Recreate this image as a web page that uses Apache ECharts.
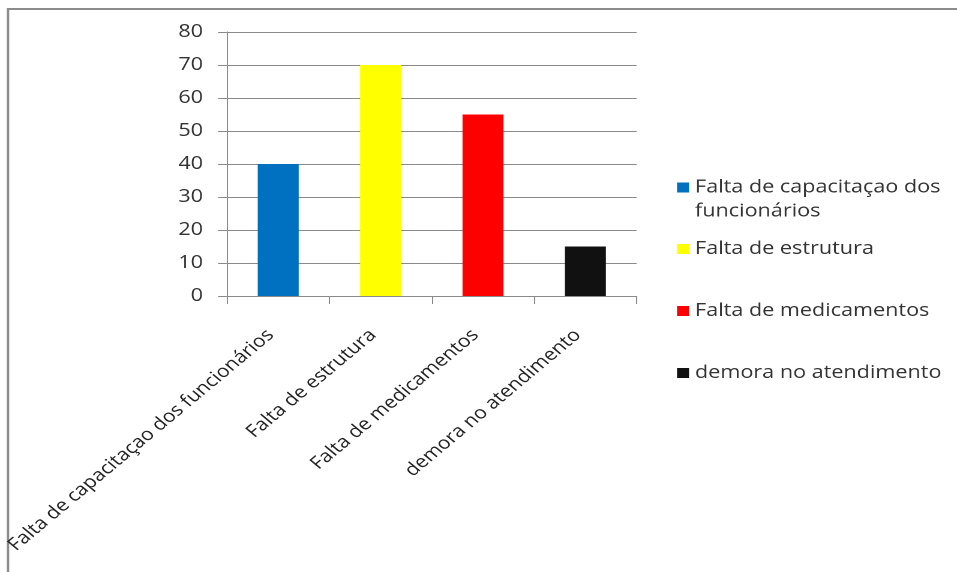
<!DOCTYPE html>
<html>
<head>
<meta charset="utf-8">
<script src="https://cdn.jsdelivr.net/npm/echarts@6/dist/echarts.min.js"></script>
<style>
  html, body { margin: 0; padding: 0; background: #fff; overflow: hidden; }
  /* the chart is drawn narrower and widened 1.2x, giving the broad lettering */
  #chart {
    width: 797.5px;
    height: 572px;
    transform: scaleX(1.2);
    transform-origin: 0 0;
  }
</style>
</head>
<body>
<div id="chart"></div>
<script>
// Problems reported by users of the health service
const categories = [
  'Falta de capacitaçao dos funcionários',
  'Falta de estrutura',
  'Falta de medicamentos',
  'demora no atendimento'
];
const values = [40, 70, 55, 15];
const barColors = ['#0070c0', '#ffff00', '#ff0000', '#111111'];
const yTicks = { min: 0, max: 80, interval: 10 };
// legend text; the first entry wraps onto a second line
const legendLines = [
  ['Falta de capacitaçao dos', 'funcionários'],
  ['Falta de estrutura'],
  ['Falta de medicamentos'],
  ['demora no atendimento']
];
const legendCenters = [187.5, 249, 311, 373];

const SX = 1.2;                // horizontal stretch applied by CSS
const px = (x) => x / SX;      // page x -> chart x
const FONT = '"Open Sans", sans-serif';
const GRAY = '#8a8a8a';
const LINE_H = 24;
const CHART_W = 957 / SX;

// one stacked series per category so each bar gets its own legend entry
const series = categories.map((name, i) => ({
  name: name,
  type: 'bar',
  stack: 'all',
  barWidth: '40%',
  itemStyle: { color: barColors[i] },
  data: categories.map((_, j) => (j === i ? values[i] : '-'))
}));

// Legend text is vertically centred on its icon, so a wrapped entry gets a
// blank line on top to keep its first line level with the icon.
const legends = categories.map((name, i) => {
  const lines = legendLines[i];
  const padded = lines.length > 1 ? [' '].concat(lines) : lines;
  return {
    data: [name],
    orient: 'vertical',
    left: px(677),
    top: legendCenters[i] - (padded.length * LINE_H) / 2,
    padding: 0,
    icon: 'rect',
    itemWidth: 10,
    itemHeight: 10,
    selectedMode: false,
    formatter: () => padded.join('\n'),
    textStyle: {
      fontFamily: FONT,
      fontSize: 18,
      color: '#333',
      lineHeight: LINE_H
    }
  };
});

const chart = echarts.init(document.getElementById('chart'), null, {
  renderer: 'canvas',
  devicePixelRatio: 2
});
chart.setOption({
  animation: false,
  backgroundColor: '#fff',
  graphic: [{
    type: 'rect',
    shape: { x: px(8), y: 9, width: 900, height: 600 },
    style: { fill: 'none', stroke: '#8c8c8c', lineWidth: 2 },
    silent: true,
    z: -1
  }],
  grid: { left: px(227), right: CHART_W - px(636), top: 32, bottom: 276 },
  legend: legends,
  xAxis: {
    type: 'category',
    data: categories,
    axisLine: { lineStyle: { color: GRAY, width: 1 } },
    axisTick: { show: true, length: 8, lineStyle: { color: GRAY } },
    axisLabel: {
      rotate: 45,
      margin: 30,
      padding: [0, 9, 0, 0],
      interval: 0,
      fontFamily: FONT,
      fontSize: 17.5,
      color: '#222'
    }
  },
  yAxis: {
    type: 'value',
    min: yTicks.min,
    max: yTicks.max,
    interval: yTicks.interval,
    axisLine: { show: true, lineStyle: { color: GRAY, width: 1 } },
    axisTick: { show: true, length: px(9), lineStyle: { color: GRAY } },
    splitLine: { show: true, lineStyle: { color: GRAY, width: 1 } },
    axisLabel: {
      margin: px(24),
      fontFamily: FONT,
      fontSize: 18,
      color: '#333'
    }
  },
  series: series
});
</script>
</body>
</html>
